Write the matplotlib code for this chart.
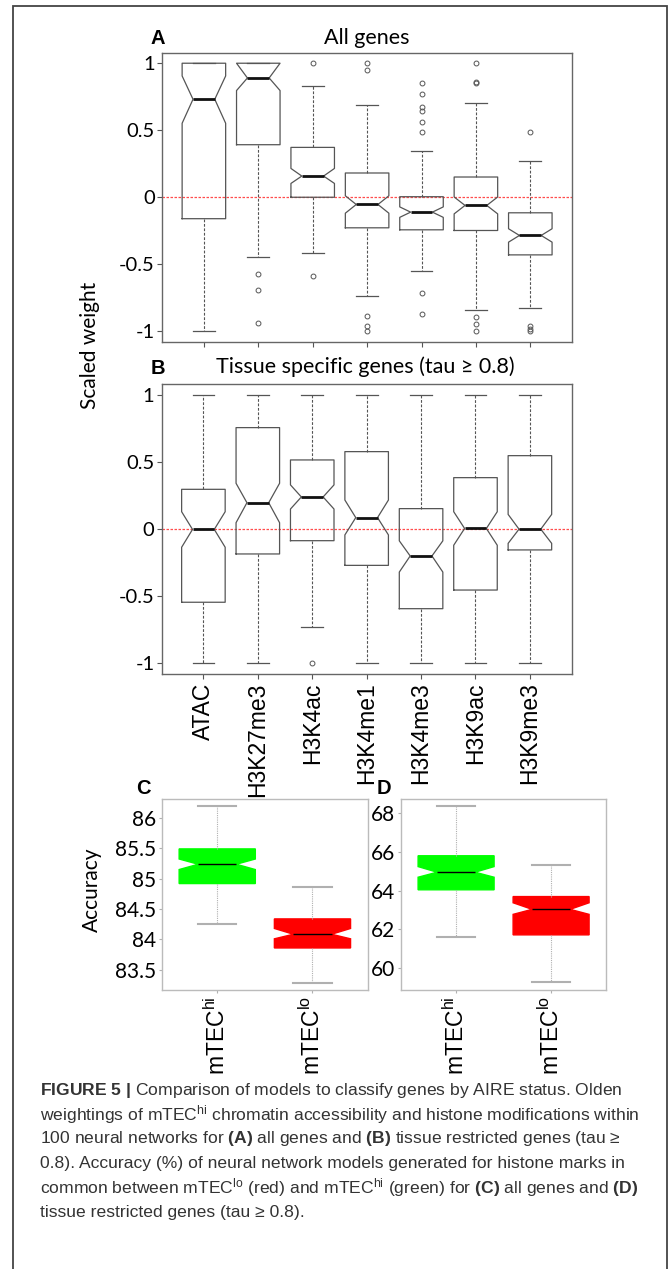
import matplotlib
matplotlib.use('Agg')
import matplotlib.pyplot as plt
import numpy as np
from matplotlib.patches import Rectangle

W, H = 669, 1269

marks = ['ATAC', 'H3K27me3', 'H3K4ac', 'H3K4me1', 'H3K4me3', 'H3K9ac', 'H3K9me3']

# A: all genes
a_whislo = [-1.0, -0.445, -0.415, -0.738, -0.552, -0.84, -0.826]
a_q1 = [-0.16, 0.392, 0.0, -0.228, -0.243, -0.248, -0.43]
a_cilo = [0.552, 0.796, 0.103, -0.119, -0.150, -0.124, -0.335]
a_med = [0.731, 0.89, 0.158, -0.054, -0.111, -0.061, -0.285]
a_cihi = [0.905, 1.0, 0.215, 0.011, -0.072, 0.002, -0.235]
a_q3 = [1.0, 1.0, 0.372, 0.181, 0.004, 0.151, -0.116]
a_whishi = [1.0, 1.0, 0.828, 0.691, 0.342, 0.701, 0.268]
a_fliers = [[], [-0.569, -0.694, -0.938], [1.0, -0.59],
            [1.0, 0.95, -0.883, -0.963, -1.0],
            [0.856, 0.768, 0.671, 0.641, 0.559, 0.489, -0.718, -0.868],
            [1.0, 0.858, 0.852, -0.893, -0.948, -1.0],
            [0.487, -0.96, -0.98, -1.0]]

# B: tissue specific genes
b_whislo = [-1.0, -1.0, -0.727, -1.0, -1.0, -1.0, -1.0]
b_q1 = [-0.545, -0.185, -0.086, -0.27, -0.593, -0.454, -0.155]
b_cilo = [-0.135, 0.048, 0.15, -0.043, -0.32, -0.12, -0.106]
b_med = [-0.002, 0.197, 0.24, 0.086, -0.2, 0.005, 0.0]
b_cihi = [0.13, 0.342, 0.33, 0.217, -0.087, 0.13, 0.11]
b_q3 = [0.297, 0.757, 0.516, 0.578, 0.153, 0.384, 0.548]
b_whishi = [1.0, 1.0, 1.0, 1.0, 1.0, 1.0, 1.0]
b_fliers = [[], [], [-1.0], [], [], [], []]

groups = ['mTEC$^{\\mathrm{hi}}$', 'mTEC$^{\\mathrm{lo}}$']
group_colors = ['#00ff00', '#ff0000']

# C: accuracy, all genes
c_whislo = [84.25, 83.28]
c_q1 = [84.917, 83.86]
c_cilo = [85.147, 84.01]
c_med = [85.234, 84.085]
c_cihi = [85.32, 84.18]
c_q3 = [85.486, 84.337]
c_whishi = [86.19, 84.857]

# D: accuracy, tissue restricted genes
d_whislo = [61.62, 59.26]
d_q1 = [64.05, 61.72]
d_cilo = [64.70, 62.78]
d_med = [64.96, 63.04]
d_cihi = [65.25, 63.38]
d_q3 = [65.81, 63.70]
d_whishi = [68.40, 65.34]

caption = [
    r"$\mathbf{FIGURE\ 5\ |}$ Comparison of models to classify genes by AIRE status. Olden",
    r"weightings of mTEC$^{\mathrm{hi}}$ chromatin accessibility and histone modifications within",
    r"100 neural networks for $\mathbf{(A)}$ all genes and $\mathbf{(B)}$ tissue restricted genes (tau ≥",
    r"0.8). Accuracy (%) of neural network models generated for histone marks in",
    r"common between mTEC$^{\mathrm{lo}}$ (red) and mTEC$^{\mathrm{hi}}$ (green) for $\mathbf{(C)}$ all genes and $\mathbf{(D)}$",
    r"tissue restricted genes (tau ≥ 0.8).",
]

plt.rcParams['mathtext.fontset'] = 'custom'
plt.rcParams['mathtext.rm'] = 'Liberation Sans'
plt.rcParams['mathtext.it'] = 'Liberation Sans:italic'
plt.rcParams['mathtext.bf'] = 'Liberation Sans:bold'

NUM_FONT = ['Lato', 'DejaVu Sans']
LAB_FONT = ['Liberation Sans Narrow', 'Liberation Sans']


def make_stats(whislo, q1, cilo, med, cihi, q3, whishi, fliers=None):
    stats = []
    for i in range(len(med)):
        stats.append(dict(whislo=whislo[i], q1=q1[i], cilo=cilo[i], med=med[i],
                          cihi=cihi[i], q3=q3[i], whishi=whishi[i],
                          fliers=np.array(fliers[i] if fliers else [])))
    return stats


def px_axes(fig, left, top, right, bottom):
    return fig.add_axes([left / W, 1 - bottom / H, (right - left) / W, (bottom - top) / H])


def weight_panel(ax, stats):
    ax.bxp(stats, positions=range(1, 8), widths=0.8, shownotches=True,
           boxprops=dict(color='#555555', lw=0.9),
           whiskerprops=dict(color='#555555', lw=0.8, ls=(0, (2.5, 1.5))),
           capprops=dict(color='#555555', lw=0.9),
           medianprops=dict(color='#111111', lw=2.0),
           flierprops=dict(marker='o', markersize=3.5, mfc='none', mec='#555555', mew=0.7))
    ax.axhline(0, color='#ff4d4d', lw=0.9, ls=(0, (2, 1.2)), zorder=0.5)
    ax.set_xlim(0.23, 7.77)
    ax.set_ylim(-1.08, 1.08)
    ax.set_yticks([-1, -0.5, 0, 0.5, 1], ['-1', '-0.5', '0', '0.5', '1'],
                  fontfamily=NUM_FONT, fontsize=14.5)
    ax.tick_params(length=3.6, width=0.8, color='#555555', pad=1.5)
    for s in ax.spines.values():
        s.set_color('#666666')
        s.set_linewidth(1.0)


def accuracy_panel(ax, stats, ylim, yticks, ylabels):
    res = ax.bxp(stats, positions=[1, 2], widths=0.8, shownotches=True, patch_artist=True,
                 whiskerprops=dict(color='#b0b0b0', lw=0.8, ls=(0, (1, 1))),
                 capprops=dict(color='#b0b0b0', lw=1.5),
                 medianprops=dict(color='black', lw=1.0))
    for box, col in zip(res['boxes'], group_colors):
        box.set_facecolor(col)
        box.set_edgecolor(col)
    ax.set_xlim(0.42, 2.58)
    ax.set_ylim(*ylim)
    ax.set_yticks(yticks, ylabels, fontfamily=NUM_FONT, fontsize=15)
    ax.set_xticks([1, 2], groups, rotation=90, fontfamily=LAB_FONT, fontsize=16.5)
    ax.tick_params(length=2.5, width=0.8, color='#b0b0b0', pad=2)
    for s in ax.spines.values():
        s.set_color('#bbbbbb')
        s.set_linewidth(1.0)


fig = plt.figure(figsize=(W / 100, H / 100), dpi=100)

# A
ax_a = px_axes(fig, 162, 52.5, 572.2, 342)
weight_panel(ax_a, make_stats(a_whislo, a_q1, a_cilo, a_med, a_cihi, a_q3, a_whishi, a_fliers))
ax_a.set_xticks(range(1, 8), [''] * 7)

# B
ax_b = px_axes(fig, 161.5, 384.3, 571.8, 674)
weight_panel(ax_b, make_stats(b_whislo, b_q1, b_cilo, b_med, b_cihi, b_q3, b_whishi, b_fliers))
ax_b.set_xticks(range(1, 8), marks, rotation=90, fontfamily=LAB_FONT, fontsize=16.5)
ax_b.tick_params(axis='x', pad=2.5)

# C
ax_c = px_axes(fig, 162, 799.3, 367.7, 990)
accuracy_panel(ax_c, make_stats(c_whislo, c_q1, c_cilo, c_med, c_cihi, c_q3, c_whishi),
               (83.17, 86.30), [83.5, 84, 84.5, 85, 85.5, 86],
               ['83.5', '84', '84.5', '85', '85.5', '86'])

# D
ax_d = px_axes(fig, 401, 798.7, 606.2, 990)
accuracy_panel(ax_d, make_stats(d_whislo, d_q1, d_cilo, d_med, d_cihi, d_q3, d_whishi),
               (58.87, 68.76), [60, 62, 64, 66, 68], ['60', '62', '64', '66', '68'])

# titles, panel letters, axis labels
fig.text(367 / W, 1 - 38 / H, 'All genes', ha='center', va='center',
         fontsize=15.5, family=NUM_FONT)
fig.text(365 / W, 1 - 367 / H, 'Tissue specific genes (tau ≥ 0.8)', ha='center', va='center',
         fontsize=15.5, family=NUM_FONT)
for letter, x, y in [('A', 158, 39), ('B', 158, 369), ('C', 143, 788), ('D', 384, 788)]:
    fig.text(x / W, 1 - y / H, letter, ha='center', va='center', fontsize=14.5,
             fontweight='bold', family='Liberation Sans')
fig.text(90 / W, 1 - 345 / H, 'Scaled weight', rotation=90, ha='center', va='center',
         fontsize=15, family=NUM_FONT)
fig.text(92 / W, 1 - 890 / H, 'Accuracy', rotation=90, ha='center', va='center',
         fontsize=15, family=NUM_FONT)

# caption
for i, line in enumerate(caption):
    fig.text(40 / W, 1 - (1090 + i * 24.5) / H, line, ha='left', va='center',
             fontsize=12.6, family='Liberation Sans', color='#333333')

# outer frame
fig.add_artist(Rectangle((13 / W, -0.01), (667 - 13) / W, (H - 6) / H + 0.01,
                         transform=fig.transFigure, fill=False, ec='#444444', lw=1.3))

fig.savefig('out.png', dpi=100)
